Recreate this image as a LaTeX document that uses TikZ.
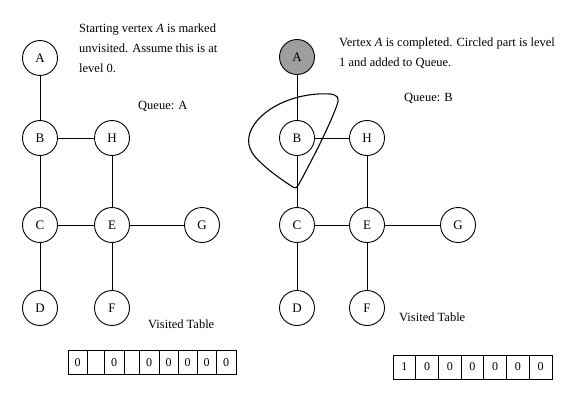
\documentclass[tikz,border=0pt]{standalone}
\usepackage{fontspec}
\setmainfont{Liberation Serif}
\begin{document}
\begin{tikzpicture}[x=1pt,y=-1pt,
  vtx/.style={circle,draw,line width=0.9pt,minimum size=35pt,inner sep=0pt,font=\fontsize{13}{15}\selectfont},
  done/.style={fill=black!38},
  edge/.style={line width=1pt},
  txt/.style={anchor=base west,inner sep=0pt,font=\fontsize{12.5}{15}\selectfont},
  cell/.style={draw,line width=0.7pt,minimum height=24pt,inner sep=0pt,font=\fontsize{12}{14}\selectfont}
]
\useasboundingbox (0,0) rectangle (567,409);
% ---------- left graph ----------
\node[vtx] (lA) at (40,58) {A};
\node[vtx] (lB) at (40,138) {B};
\node[vtx] (lH) at (112,138) {H};
\node[vtx] (lC) at (40,225) {C};
\node[vtx] (lE) at (112,225) {E};
\node[vtx] (lG) at (202,225) {G};
\node[vtx] (lD) at (40,308) {D};
\node[vtx] (lF) at (112,308) {F};
\draw[edge] (lA) -- (lB);
\draw[edge] (lB) -- (lH);
\draw[edge] (lB) -- (lC);
\draw[edge] (lH) -- (lE);
\draw[edge] (lC) -- (lE);
\draw[edge] (lE) -- (lG);
\draw[edge] (lC) -- (lD);
\draw[edge] (lE) -- (lF);
\node[txt] (lt1) at (79,33) {Starting vertex \textit{A} is marked};
\node[txt] (lt2) at (79,53) {unvisited. Assume this is at};
\node[txt] (lt3) at (79,73) {level 0.};
\node[txt] (lq) at (138,110) {Queue: A};
\node[txt] (lv) at (148,328) {Visited Table};
\foreach \l/\r/\t [count=\i] in {68/87/0,87/104/,104/124/0,124/139/,139/159/0,159/178/0,178/197/0,197/216/0,216/236/0}{
  \node[cell,minimum width={(\r-\l)*1pt}] (lc\i) at ({(\l+\r)/2},362.5) {\t};
}
% ---------- right graph ----------
\node[vtx,done] (rA) at (297,57) {A};
\node[vtx] (rB) at (297,138) {B};
\node[vtx] (rH) at (367,138) {H};
\node[vtx] (rC) at (297,225) {C};
\node[vtx] (rE) at (367,225) {E};
\node[vtx] (rG) at (458,225) {G};
\node[vtx] (rD) at (297,308) {D};
\node[vtx] (rF) at (367,308) {F};
\draw[edge] (rA) -- (rB);
\draw[edge] (rB) -- (rH);
\draw[edge] (rB) -- (rC);
\draw[edge] (rH) -- (rE);
\draw[edge] (rC) -- (rE);
\draw[edge] (rE) -- (rG);
\draw[edge] (rC) -- (rD);
\draw[edge] (rE) -- (rF);
\draw[line width=1.1pt] (330,94) .. controls (300,92) and (265,105) .. (252,128)
  .. controls (246,140) and (248,150) .. (258,160)
  .. controls (270,172) and (285,182) .. (293,187)
  .. controls (296,189) and (297,187) .. (299,184)
  .. controls (312,160) and (330,125) .. (337,105)
  .. controls (340,97) and (337,95) .. cycle;
\node[txt] (rt1) at (339,47) {Vertex \textit{A} is completed. Circled part is level};
\node[txt] (rt2) at (339,67) {1 and added to Queue.};
\node[txt] (rq) at (404,102) {Queue: B};
\node[txt] (rv) at (399,321) {Visited Table};
\foreach \t [count=\i] in {1,0,0,0,0,0,0}{
  \node[cell,minimum width=22.7pt] (rc\i) at ({393+(\i-0.5)*22.7},367) {\t};
}
\end{tikzpicture}
\end{document}
